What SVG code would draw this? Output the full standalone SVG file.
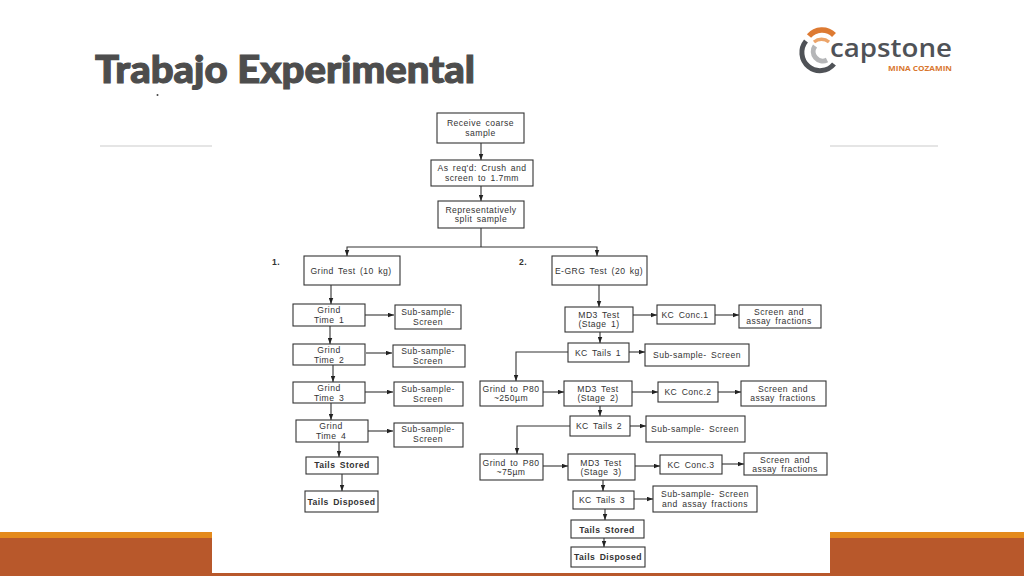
<svg xmlns="http://www.w3.org/2000/svg" width="1024" height="576" viewBox="0 0 1024 576">
<style>
.n rect{fill:#fff;stroke:#333;stroke-width:1.1}
.n text,.lbl{font-family:"Liberation Sans",Arial,sans-serif;font-size:8.6px;fill:#333;text-anchor:middle;letter-spacing:.45px;word-spacing:1.6px}
.b text,.lbl{font-weight:700}
#connectors path{fill:none;stroke:#333;stroke-width:1.1;marker-end:url(#a)}
#connectors path.p{marker-end:none}
</style>
<defs><marker id="a" viewBox="0 0 8 6" refX="8" refY="3" markerWidth="6" markerHeight="5" markerUnits="userSpaceOnUse" orient="auto"><path d="M0 0L8 3L0 6z" fill="#222"/></marker></defs>
<rect width="1024" height="576" fill="#fff"/>
<g id="band"><rect y="532" width="1024" height="44" fill="#b8582b"/><rect y="532" width="1024" height="6" fill="#e48a1c"/></g>
<path d="M100 146H938" stroke="#ccc" stroke-width="1.2"/>
<rect x="212" y="0" width="618" height="573" fill="#fff"/>
<text x="95" y="83" font-family="Lato,'Open Sans',sans-serif" font-weight="900" font-size="38" fill="#4d4d4d" stroke="#4d4d4d" stroke-width="1.1" textLength="380" lengthAdjust="spacingAndGlyphs">Trabajo Experimental</text>
<circle cx="157.5" cy="95" r="1" fill="#444"/>
<g id="logo" fill="none">
<path d="M809 36A17 17 0 0 1 834 35" stroke="#dd7a32" stroke-width="5.5"/>
<path d="M814 42A12 12 0 0 1 829 42" stroke="#eca469" stroke-width="3.5"/>
<path d="M806 41A17.5 17.5 0 1 0 834 64" stroke="#4f5257" stroke-width="5"/>
<path d="M815 46A9.500 9.500 0 0 0 827 60" stroke="#b5b6b8" stroke-width="5"/>
<text x="830" y="57" font-family="'Open Sans',sans-serif" font-weight="600" font-size="26" fill="#4f5257" stroke="none" textLength="122" lengthAdjust="spacingAndGlyphs">capstone</text>
<text x="888" y="71" font-family="'Open Sans',sans-serif" font-weight="700" font-size="7.500" fill="#d9772f" stroke="none" textLength="64" lengthAdjust="spacingAndGlyphs">MINA COZAMIN</text>
</g>
<text class="lbl" x="276" y="265">1.</text>
<text class="lbl" x="523" y="265">2.</text>
<g id="connectors">
<path d="M481 143V160"/><path d="M481 186V201"/><path class="p" d="M481 228V247"/>
<path d="M481 247H347V256"/><path d="M481 247H597V256"/>
<path d="M331 285V304"/><path d="M365 315H394"/><path d="M330 326V344"/><path d="M366 353H392"/><path d="M333 365V382"/><path d="M365 392H393"/><path d="M331 403V420"/><path d="M368 431H393"/><path d="M339 442V457"/><path d="M342 474V491"/>
<path d="M599 285V307"/><path d="M633 315H657"/><path d="M715 315H739"/><path d="M600 332V343"/><path d="M629 352H645"/><path d="M568 352H516V381"/><path d="M543 392H564"/><path d="M632 392H658"/><path d="M718 392H741"/><path d="M600 406V416"/><path d="M630 426H646"/><path d="M570 426H517V454"/><path d="M543 466H568"/><path d="M635 466H660"/><path d="M722 464H744"/><path d="M603 480V491"/><path d="M634 499H653"/><path d="M605 509V520"/><path d="M604 538V547"/>
</g>
<g id="receive" class="n"><rect x="437" y="113" width="87" height="30"/><text x="480.500" y="126">Receive coarse</text><text x="480.500" y="136">sample</text></g>
<g id="crush" class="n"><rect x="431" y="160" width="102" height="26"/><text x="482" y="171">As req'd: Crush and</text><text x="482" y="181">screen to 1.7mm</text></g>
<g id="split" class="n"><rect x="438" y="201" width="86" height="27"/><text x="481" y="213">Representatively</text><text x="481" y="222">split sample</text></g>
<g id="grindtest" class="n"><rect x="304" y="256" width="96" height="29"/><text x="351" y="274">Grind Test (10 kg)</text></g>
<g id="g1" class="n"><rect x="293" y="304" width="72" height="22"/><text x="329" y="313">Grind</text><text x="329" y="323">Time 1</text></g>
<g id="s1" class="n"><rect x="395" y="305" width="66" height="24"/><text x="428" y="315">Sub-sample-</text><text x="428" y="325">Screen</text></g>
<g id="g2" class="n"><rect x="293" y="344" width="72" height="21"/><text x="329" y="353">Grind</text><text x="329" y="363">Time 2</text></g>
<g id="s2" class="n"><rect x="393" y="345" width="72" height="22"/><text x="428" y="354">Sub-sample-</text><text x="428" y="364">Screen</text></g>
<g id="g3" class="n"><rect x="293" y="382" width="72" height="21"/><text x="329" y="391">Grind</text><text x="329" y="401">Time 3</text></g>
<g id="s3" class="n"><rect x="394" y="382" width="69" height="24"/><text x="428" y="392">Sub-sample-</text><text x="428" y="402">Screen</text></g>
<g id="g4" class="n"><rect x="296" y="420" width="72" height="22"/><text x="331" y="429">Grind</text><text x="331" y="439">Time 4</text></g>
<g id="s4" class="n"><rect x="394" y="423" width="69" height="24"/><text x="428" y="432">Sub-sample-</text><text x="428" y="442">Screen</text></g>
<g id="stored1" class="n b"><rect x="306" y="457" width="72" height="17"/><text x="342" y="468">Tails Stored</text></g>
<g id="disposed1" class="n b"><rect x="305" y="491" width="73" height="21"/><text x="341.500" y="505">Tails Disposed</text></g>
<g id="egrg" class="n"><rect x="552" y="256" width="95" height="29"/><text x="599" y="274">E-GRG Test (20 kg)</text></g>
<g id="md1" class="n"><rect x="565" y="307" width="68" height="25"/><text x="599" y="318">MD3 Test</text><text x="599" y="327">(Stage 1)</text></g>
<g id="c1" class="n"><rect x="657" y="305" width="58" height="19"/><text x="685" y="318">KC Conc.1</text></g>
<g id="f1" class="n"><rect x="739" y="305" width="82" height="23"/><text x="779" y="315">Screen and</text><text x="779" y="324">assay fractions</text></g>
<g id="t1" class="n"><rect x="568" y="343" width="61" height="19"/><text x="598" y="356">KC Tails 1</text></g>
<g id="ss1" class="n"><rect x="645" y="344" width="104" height="22"/><text x="697" y="358">Sub-sample- Screen</text></g>
<g id="p1" class="n"><rect x="480" y="381" width="63" height="25"/><text x="511" y="392">Grind to P80</text><text x="511" y="401">~250µm</text></g>
<g id="md2" class="n"><rect x="564" y="381" width="68" height="25"/><text x="598" y="392">MD3 Test</text><text x="598" y="401">(Stage 2)</text></g>
<g id="c2" class="n"><rect x="658" y="382" width="60" height="20"/><text x="688" y="395">KC Conc.2</text></g>
<g id="f2" class="n"><rect x="741" y="381" width="85" height="25"/><text x="783" y="392">Screen and</text><text x="783" y="401">assay fractions</text></g>
<g id="t2" class="n"><rect x="570" y="416" width="60" height="20"/><text x="599" y="429">KC Tails 2</text></g>
<g id="ss2" class="n"><rect x="646" y="416" width="99" height="26"/><text x="695" y="432">Sub-sample- Screen</text></g>
<g id="p2" class="n"><rect x="480" y="454" width="63" height="26"/><text x="511" y="466">Grind to P80</text><text x="511" y="475">~75µm</text></g>
<g id="md3" class="n"><rect x="568" y="454" width="67" height="26"/><text x="601" y="466">MD3 Test</text><text x="601" y="475">(Stage 3)</text></g>
<g id="c3" class="n"><rect x="660" y="455" width="62" height="19"/><text x="691" y="468">KC Conc.3</text></g>
<g id="f3" class="n"><rect x="744" y="453" width="83" height="22"/><text x="785" y="463">Screen and</text><text x="785" y="472">assay fractions</text></g>
<g id="t3" class="n"><rect x="573" y="491" width="61" height="18"/><text x="602" y="503">KC Tails 3</text></g>
<g id="ss3" class="n"><rect x="653" y="486" width="104" height="26"/><text x="705" y="497">Sub-sample- Screen</text><text x="705" y="507">and assay fractions</text></g>
<g id="stored2" class="n b"><rect x="571" y="520" width="73" height="18"/><text x="607" y="533">Tails Stored</text></g>
<g id="disposed2" class="n b"><rect x="571" y="547" width="74" height="20"/><text x="608" y="560">Tails Disposed</text></g>
</svg>
